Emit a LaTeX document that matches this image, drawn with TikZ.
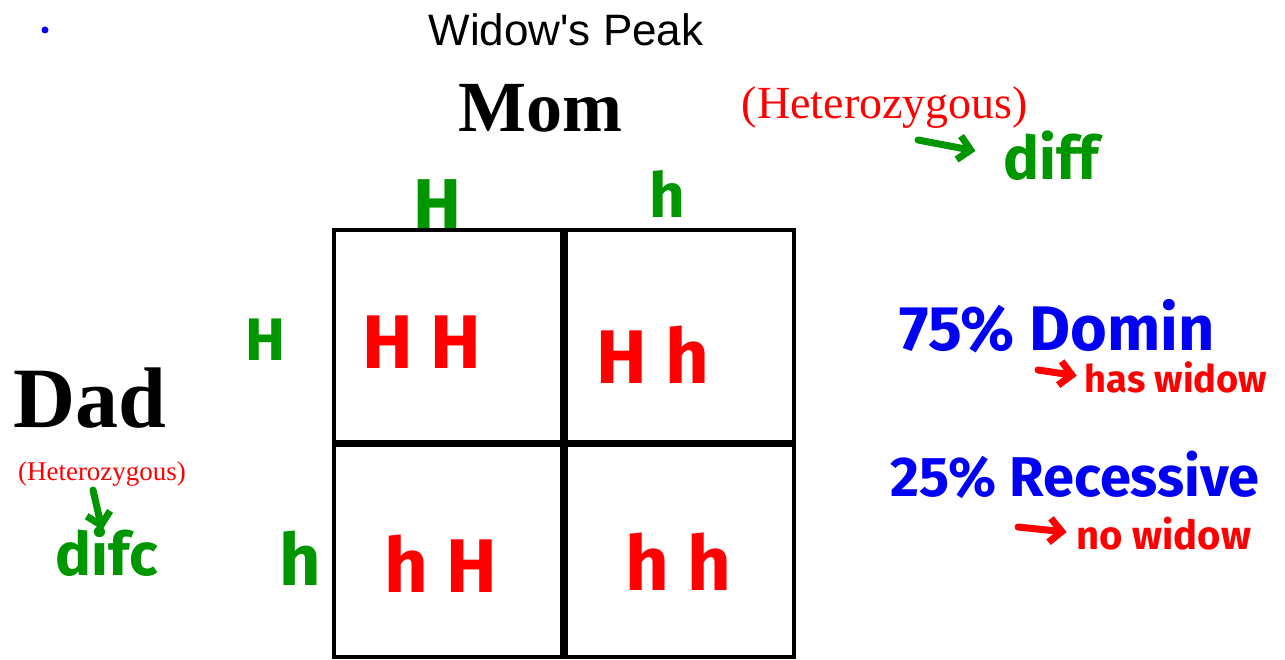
\documentclass[tikz,border=0pt]{standalone}
\usepackage{fontspec}
\setmainfont{Liberation Serif}
\newfontfamily\titlefont{Liberation Sans}
\newfontfamily\handfont{Fira Sans}
\usetikzlibrary{arrows.meta}
\definecolor{penred}{RGB}{255,0,0}
\definecolor{pengreen}{RGB}{0,150,0}
\definecolor{penblue}{RGB}{0,0,245}
\newcommand{\ptsize}[1]{\fontsize{#1}{#1}\selectfont}

\begin{document}
\begin{tikzpicture}[x=1pt,y=-1pt,
  cell/.style={rectangle,draw=black,line width=4pt,minimum width=228pt,minimum height=212pt,inner sep=0pt},
  txt/.style={anchor=base,inner sep=0pt},
  hand/.style={txt,font=\handfont\bfseries\ptsize{#1}},
  pen/.style={line width=7pt,line cap=round,line join=round,-{Straight Barb[length=12pt,width=24pt]}}]
\useasboundingbox (0,0) rectangle (1285,660);

% headings
\node[circle,fill=penblue,inner sep=0pt,minimum size=7pt] (dot) at (45,30) {};
\node[txt,font=\titlefont\ptsize{44}] (title) at (566,46) {Widow's Peak};
\node[txt,font=\bfseries\ptsize{72}] (mom) at (540,132) {Mom};
\node[txt,font=\ptsize{46},text=penred] (momzyg) at (885,119) {(Heterozygous)};
\node[txt,font=\bfseries\ptsize{86}] (dad) at (90,427) {Dad};
\node[txt,font=\ptsize{27},text=penred] (dadzyg) at (102,480) {(Heterozygous)};

% parents' alleles
\node[hand=60,text=pengreen] (momdiff) at (1051,180) {diff};
\node[hand=60,text=pengreen] (daddiff) at (107,575) {difc};
\node[hand=72,text=pengreen] (momH) at (437,230) {H};
\node[hand=62,text=pengreen] (momh) at (667,218) {h};
\node[hand=60,text=pengreen] (dadH) at (265,360) {H};
\node[hand=72,text=pengreen] (dadh) at (300,585) {h};

% square
\node[cell] (HH) at (448,336) {};
\node[cell] (Hh) at (680,336) {};
\node[cell] (hH) at (448,551) {};
\node[cell] (hh) at (680,551) {};
\node[hand=76,text=penred] (HHtxt) at (422,368) {H H};
\node[hand=76,text=penred] (Hhtxt) at (653,383) {H h};
\node[hand=76,text=penred] (hHtxt) at (441,592) {h H};
\node[hand=76,text=penred] (hhtxt) at (678,590) {h h};

% results
\node[hand=63,text=penblue] (dom) at (1057,350) {75\% Domin};
\node[hand=56,text=penblue] (rec) at (1075,496) {25\% Recessive};
\node[hand=38,text=penred] (has) at (1176,392) {has widow};
\node[hand=40,text=penred] (no) at (1164,549) {no widow};

% pen arrows
\coordinate (difftail) at (918,140);
\coordinate (dadtail) at (93,490);
\coordinate (hastail) at (1038,370);
\coordinate (notail) at (1018,527);
\draw[pen,draw=pengreen,shorten >=28pt] (difftail) -- (momdiff.west);
\draw[pen,draw=pengreen,shorten >=-4pt] (dadtail) -- (daddiff);
\draw[pen,draw=penred,shorten >=8pt] (hastail) -- (has.west);
\draw[pen,draw=penred,shorten >=10pt] (notail) -- (no.west);
\end{tikzpicture}
\end{document}
